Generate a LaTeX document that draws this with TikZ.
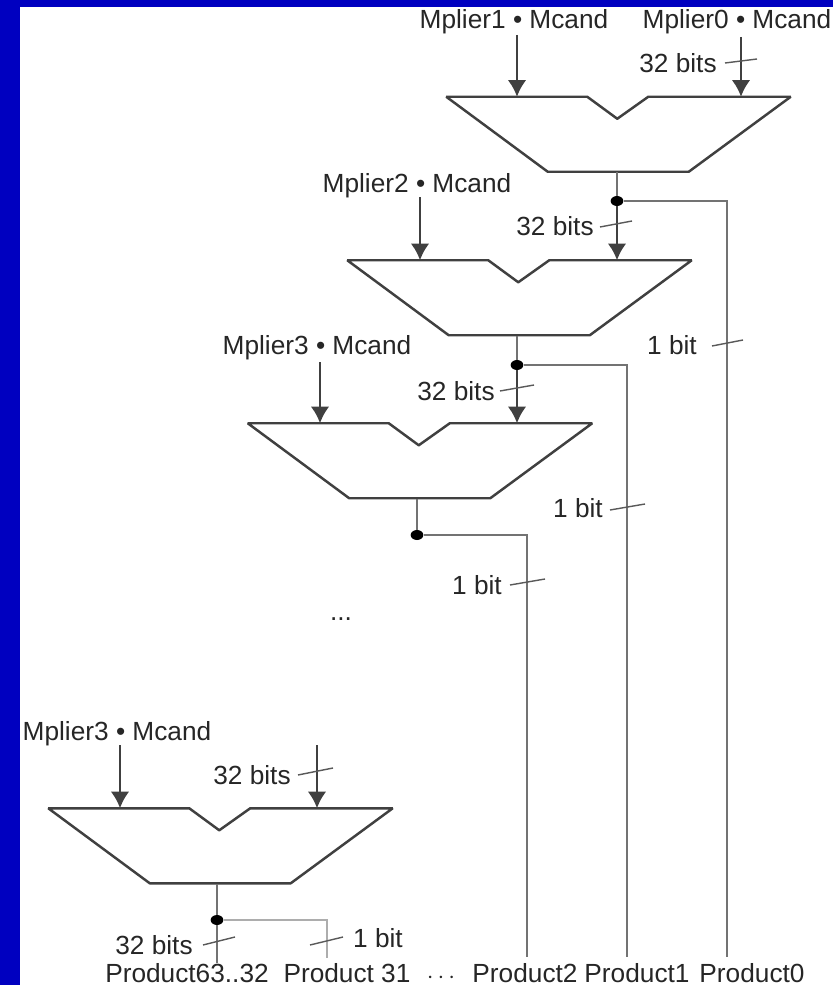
\documentclass[tikz,border=0pt]{standalone}
\usepackage{xcolor}
\usepackage{fontspec}
\setmainfont{Liberation Sans}
\usepackage{tikz}
\usetikzlibrary{arrows.meta,positioning,shapes.geometric}

\definecolor{slideblue}{RGB}{0,0,192}

\newcommand{\addernode}[2]{%
  \node[adderbox] (#1) at (#2) {};
  \draw[adderline] (#1.north west) -- ++(141,0) -- ++(30,22) -- ++(31,-22) -- (#1.north east)
    -- ++(-102,75) -- ++(-141,0) -- cycle;
}

\begin{document}
\begin{tikzpicture}[
  x=0.03cm, y=-0.03cm,
  adderbox/.style={minimum width=10.32cm, minimum height=2.25cm, inner sep=0pt},
  adderline/.style={line width=2.1pt, draw=black!75, line join=bevel},
  term/.style={font=\fontsize{22.4}{24}\selectfont, text=black!85, inner sep=0pt},
  wire/.style={line width=2.2pt, draw=black!55},
  thinwire/.style={line width=2.2pt, draw=black!32},
  arrow/.style={-{Latex[length=5mm, width=5.6mm]}, line width=2.2pt, draw=black!75},
  tick/.style={line width=1.2pt, draw=black!65},
  joint/.style={ellipse, fill=black, inner sep=0pt, minimum width=0.38cm, minimum height=0.3cm}
]
\useasboundingbox (0,0) rectangle (833,985);
\fill[slideblue] (0,0) rectangle (833,985);
\fill[white] (20,7) rectangle (833,985);

\addernode{a1}{618.5,134.5}
\addernode{a2}{519.5,298}
\addernode{a3}{420,461}
\addernode{a4}{220.5,846}

\node[term] (m1) at (514,22) {Mplier1 • Mcand};
\node[term] (m0) at (737,22) {Mplier0 • Mcand};
\node[term] (m2) at (417,186) {Mplier2 • Mcand};
\node[term] (m3) at (317,348) {Mplier3 • Mcand};
\node[term] (m4) at (117,734) {Mplier3 • Mcand};

\node[joint] (d1) at (617,201) {};
\node[joint] (d2) at (517,365) {};
\node[joint] (d3) at (417,535) {};
\node[joint] (d4) at (217,920) {};

\node[term] (w32a) at (678,63) {32 bits};
\node[term] (w32b) at (555,226) {32 bits};
\node[term] (w32c) at (456,391) {32 bits};
\node[term] (w32d) at (252,775) {32 bits};
\node[term] (w32e) at (154,945) {32 bits};
\node[term] (w1a) at (672,345) {1 bit};
\node[term] (w1b) at (578,508) {1 bit};
\node[term] (w1c) at (477,585) {1 bit};
\node[term] (w1d) at (378,938) {1 bit};

\node[term] (p63) at (187,973) {Product63..32};
\node[term] (p31) at (347,973) {Product 31};
\node[term] (pdots) at (441,978) {$\cdots$};
\node[term] (p2) at (525,973) {Product2};
\node[term] (p1) at (637,973) {Product1};
\node[term] (p0) at (752,973) {Product0};
\node[term] (gap) at (341,619) {...};

\coordinate (in1) at (517,35);
\coordinate (in0) at (741,37);
\coordinate (in2) at (420,197);
\coordinate (in3) at (320,362);
\coordinate (in4) at (120,745);
\coordinate (in5) at (317,745);
\coordinate (out0) at (727,957);
\coordinate (out1) at (627,957);
\coordinate (out2) at (527,957);
\coordinate (out31) at (327,958);
\coordinate (out63) at (217,963);

\draw[arrow] (in1) -- (in1 |- a1.north);
\draw[arrow] (in0) -- (in0 |- a1.north);
\draw[arrow] (in2) -- (in2 |- a2.north);
\draw[arrow] (in3) -- (in3 |- a3.north);
\draw[arrow] (in4) -- (in4 |- a4.north);
\draw[arrow] (in5) -- (in5 |- a4.north);

\draw[wire] (d1 |- a1.south) -- (d1);
\draw[arrow] (d1) -- (d1 |- a2.north);
\draw[wire] (d2 |- a2.south) -- (d2);
\draw[arrow] (d2) -- (d2 |- a3.north);
\draw[wire] (d3 |- a3.south) -- (d3);
\draw[wire] (d4 |- a4.south) -- (d4);
\draw[wire] (d4) -- (out63);

\draw[wire] (d1) -| (out0);
\draw[wire] (d2) -| (out1);
\draw[wire] (d3) -| (out2);
\draw[thinwire] (d4) -| (out31);

% slashes across the buses
\draw[tick] (725,63) -- (757,59);
\draw[tick] (600,227) -- (632,221);
\draw[tick] (500,391) -- (534,385);
\draw[tick] (298,775) -- (333,768);
\draw[tick] (203,945) -- (235,937);
\draw[tick] (310,945) -- (343,937);
\draw[tick] (712,346) -- (743,340);
\draw[tick] (610,510) -- (645,504);
\draw[tick] (510,585) -- (545,579);
\end{tikzpicture}
\end{document}
